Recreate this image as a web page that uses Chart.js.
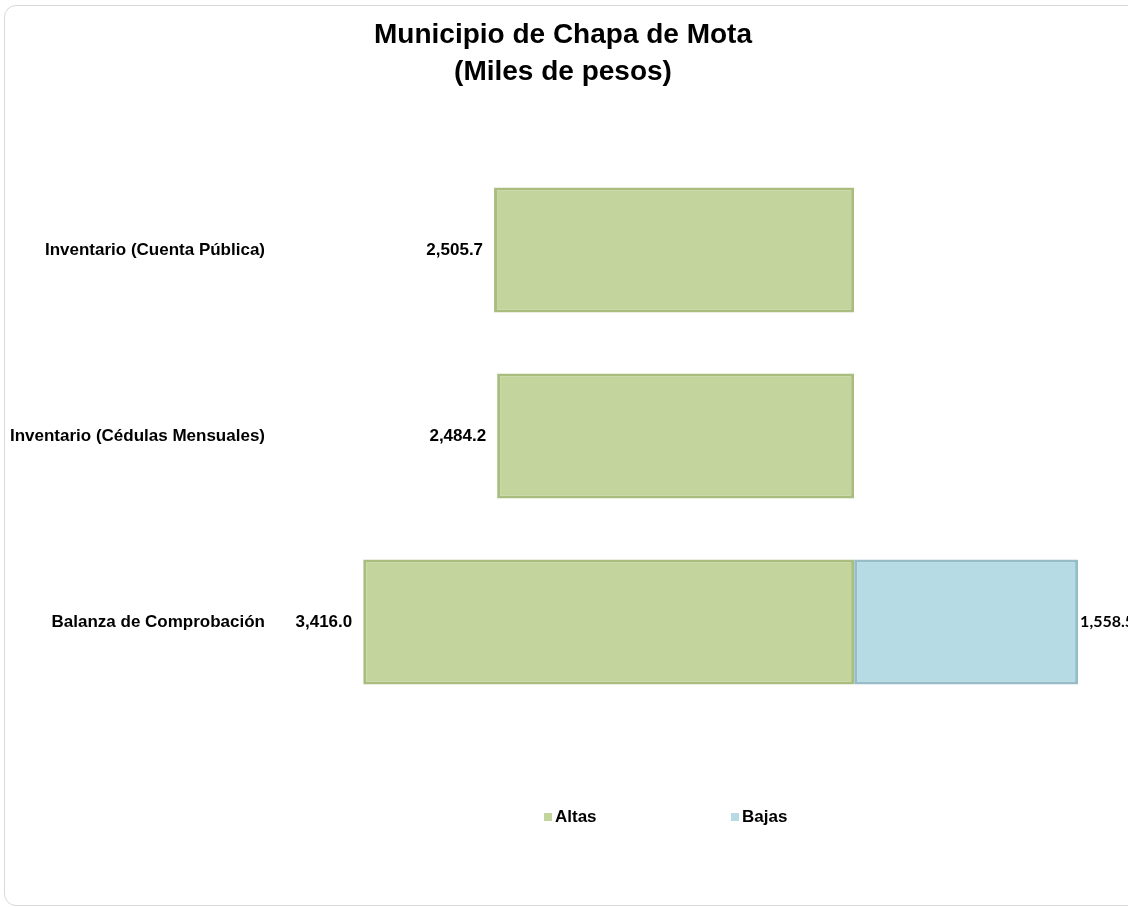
<!DOCTYPE html>
<html><head><meta charset="utf-8">
<script src="https://cdn.jsdelivr.net/npm/chart.js@4.4.1/dist/chart.umd.min.js"></script>
<style>
html,body{margin:0;padding:0;background:#fff;width:1128px;height:907px;overflow:hidden;}
#card{position:absolute;left:4px;top:5px;width:1150px;height:901px;border:1px solid #d9d9d9;border-radius:12px;box-sizing:border-box;}
#wrap{position:absolute;left:0;top:0;width:1128px;height:907px;}
#legend{position:absolute;top:805px;left:0;width:1128px;height:24px;font:bold 17px "Liberation Sans",Arial,sans-serif;color:#000;}
.item{position:absolute;top:0;display:flex;align-items:center;height:24px;}
.box{width:8px;height:8px;margin-right:3px;}
</style></head>
<body>
<div id="card"></div>
<div id="wrap"><canvas id="c" width="1128" height="907"></canvas></div>
<div id="legend"></div>
<script>
const categories = ['Inventario (Cuenta Pública)', 'Inventario (Cédulas Mensuales)', 'Balanza de Comprobación'];
const altas = [2505.7, 2484.2, 3416.0];
const bajas = [0, 0, 1558.5];
const seriesNames = ['Altas', 'Bajas'];
const titleLines = ['Municipio de Chapa de Mota', '(Miles de pesos)'];

const fmt = v => v.toLocaleString('en-US', {minimumFractionDigits: 1, maximumFractionDigits: 1});

const valueLabels = {
  id: 'valueLabels',
  afterDatasetsDraw(chart) {
    const ctx = chart.ctx;
    chart.data.datasets.forEach((ds, di) => {
      const meta = chart.getDatasetMeta(di);
      const src = di === 0 ? altas : bajas;
      meta.data.forEach((bar, i) => {
        const raw = src[i];
        if (!raw) return;
        ctx.save();
        ctx.fillStyle = '#000';
        ctx.textBaseline = 'middle';
        if (di === 0) {
          ctx.font = 'bold 17px "Liberation Sans", Arial, sans-serif';
          ctx.textAlign = 'right';
          ctx.fillText(fmt(raw), bar.x - 11, bar.y);
        } else {
          ctx.font = 'bold 16px Lato, sans-serif';
          ctx.textAlign = 'left';
          ctx.fillText(fmt(raw), bar.x + 2, bar.y);
        }
        ctx.restore();
      });
    });
  }
};

const chart = new Chart(document.getElementById('c'), {
  type: 'bar',
  data: {
    labels: categories,
    datasets: [
      {label: seriesNames[0], data: altas.map(v => -v), backgroundColor: '#c3d59c', borderColor: '#a9bd7e', borderWidth: 3, borderSkipped: false, categoryPercentage: 0.8, barPercentage: 0.84},
      {label: seriesNames[1], data: bajas, backgroundColor: '#b6dbe5', borderColor: '#96bcc7', borderWidth: 3, borderSkipped: false, categoryPercentage: 0.8, barPercentage: 0.84}
    ]
  },
  options: {
    indexAxis: 'y',
    responsive: false,
    animation: false,
    layout: {padding: {left: 6, right: 8, top: 0, bottom: 192}},
    plugins: {
      legend: {display: false},
      tooltip: {enabled: false},
      title: {
        display: true,
        text: titleLines,
        color: '#000',
        font: {family: '"Liberation Sans", Arial, sans-serif', size: 28, weight: 'bold', lineHeight: 37 / 28},
        padding: {top: 16.5, bottom: 66.5}
      }
    },
    scales: {
      x: {stacked: true, display: false, min: -4030, max: 1850},
      y: {
        stacked: true,
        grid: {display: false, drawTicks: false},
        border: {display: false},
        ticks: {color: '#000', padding: 10, font: {family: '"Liberation Sans", Arial, sans-serif', size: 17, weight: 'bold'}},
        afterFit(scale) { scale.width = 269; }
      }
    }
  },
  plugins: [valueLabels]
});

// HTML legend built from the chart's datasets
const legendEl = document.getElementById('legend');
const legendLeft = [544, 731];
chart.data.datasets.forEach((ds, i) => {
  const item = document.createElement('div');
  item.className = 'item';
  item.style.left = legendLeft[i] + 'px';
  const box = document.createElement('span');
  box.className = 'box';
  box.style.background = ds.backgroundColor;
  const txt = document.createElement('span');
  txt.textContent = ds.label;
  item.appendChild(box);
  item.appendChild(txt);
  legendEl.appendChild(item);
});
</script>
</body></html>
